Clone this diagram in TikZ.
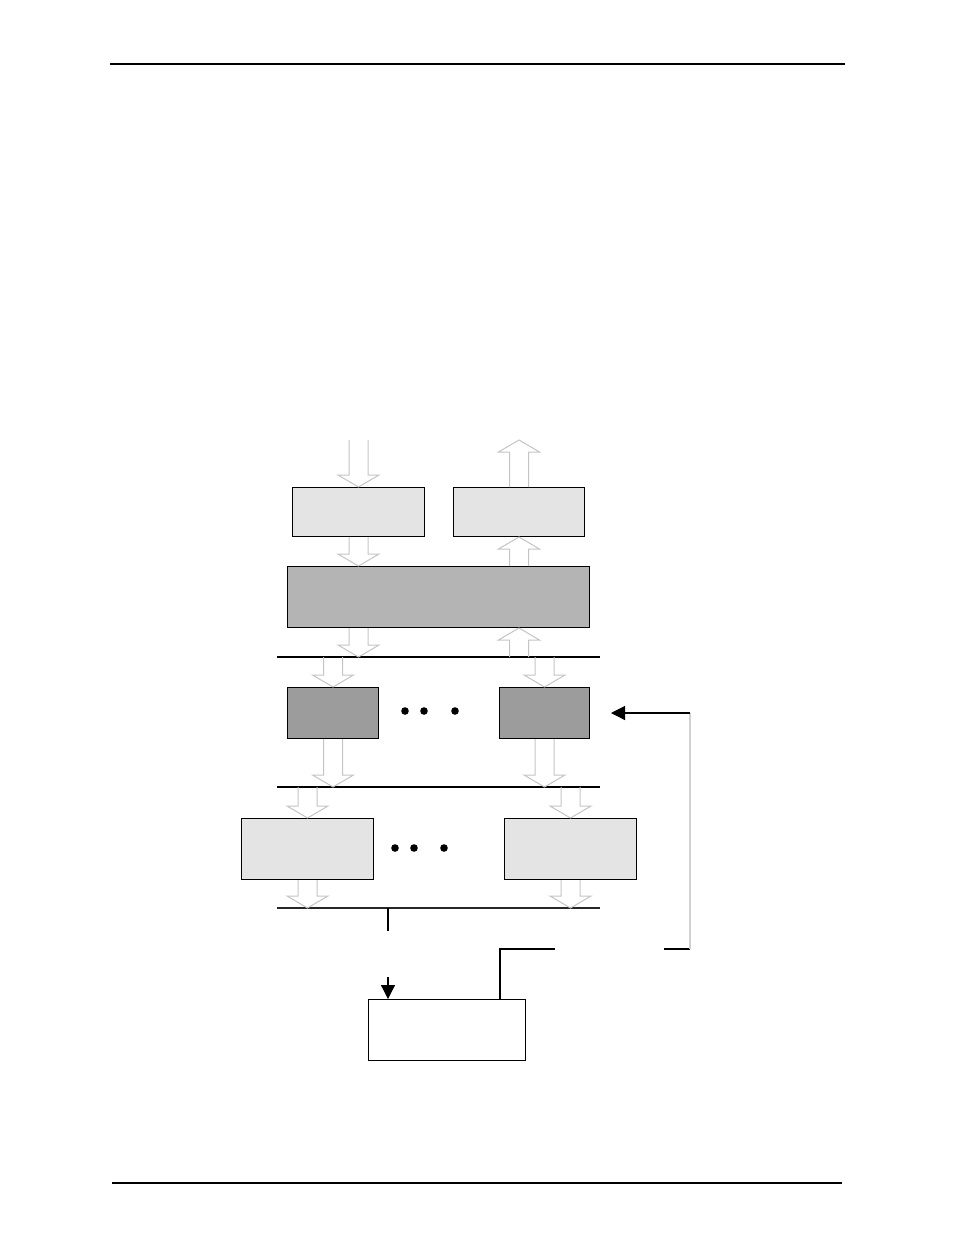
\documentclass[tikz,border=0pt]{standalone}
\usepackage{tikz}
\usepackage{xcolor}
\usetikzlibrary{arrows.meta,calc}
\definecolor{paleboxgray}{RGB}{228, 228, 228}
\definecolor{coregray}{RGB}{180, 180, 180}
\definecolor{unitgray}{RGB}{156, 156, 156}
\definecolor{fatgray}{RGB}{196, 196, 196}
\definecolor{loopgray}{RGB}{208, 208, 208}

\tikzset{
  block/.style={draw=black, line width=1pt, inner sep=0pt, anchor=north west},
  busline/.style={line width=2.5pt},
  wire/.style={line width=1.2pt},
  fatline/.style={draw=fatgray, line width=1pt, line join=miter},
  tipped/.style={-{Triangle[length=14pt,width=14pt]}}
}
\newcommand{\fatarrow}[2]{%
  \draw[fatline] let \p1=(#1), \p2=(#2), \n1={sign(\y2-\y1)} in
    (\x1-9.5pt,\y1) -- (\x1-9.5pt,\y2-\n1*12pt) -- (\x1-20.5pt,\y2-\n1*12pt) -- (\x1,\y2)
    -- (\x1+20.5pt,\y2-\n1*12pt) -- (\x1+9.5pt,\y2-\n1*12pt) -- (\x1+9.5pt,\y1);%
}

\begin{document}
\begin{tikzpicture}[x=1pt, y=-1pt]
\useasboundingbox (0,0) rectangle (954,1235);

\draw[busline] (110,64) -- (845,64);
\draw[busline] (112,1183) -- (842,1183);

\node[block, fill=paleboxgray, minimum width=132pt, minimum height=49pt] (inA) at (292,487) {};
\node[block, fill=paleboxgray, minimum width=131pt, minimum height=49pt] (outA) at (453,487) {};
\node[block, fill=coregray, minimum width=302pt, minimum height=61pt] (core) at (287,566) {};
\node[block, fill=unitgray, minimum width=91pt, minimum height=51pt] (mid1) at (287,687) {};
\node[block, fill=unitgray, minimum width=90pt, minimum height=51pt] (midN) at (499,687) {};
\node[block, fill=paleboxgray, minimum width=132pt, minimum height=61pt] (low1) at (241,818) {};
\node[block, fill=paleboxgray, minimum width=132pt, minimum height=61pt] (lowN) at (504,818) {};
\node[block, fill=white, minimum width=157pt, minimum height=61pt] (ctrl) at (368,999) {};

\coordinate (bus1w) at (277,657);
\coordinate (bus1e) at (600,657);
\coordinate (bus2w) at (277,787);
\coordinate (bus2e) at (600,787);
\coordinate (bus3w) at (277,908);
\coordinate (bus3e) at (600,908);
\draw[busline] (bus1w) -- (bus1e);
\draw[busline] (bus2w) -- (bus2e);
\draw[busline, black!85] (bus3w) -- (bus3e);

\coordinate (srcIn) at ([yshift=47pt]inA.north);
\coordinate (sinkOut) at ([yshift=47pt]outA.north);
\fatarrow{srcIn}{inA.north}
\fatarrow{outA.north}{sinkOut}
\fatarrow{inA.south}{inA.south |- core.north}
\fatarrow{outA.south |- core.north}{outA.south}
\fatarrow{inA.south |- core.south}{inA.south |- bus1w}
\fatarrow{outA.south |- bus1w}{outA.south |- core.south}
\fatarrow{mid1.north |- bus1w}{mid1.north}
\fatarrow{midN.north |- bus1w}{midN.north}
\fatarrow{mid1.south}{mid1.south |- bus2w}
\fatarrow{midN.south}{midN.south |- bus2w}
\fatarrow{low1.north |- bus2w}{low1.north}
\fatarrow{lowN.north |- bus2w}{lowN.north}
\fatarrow{low1.south}{low1.south |- bus3w}
\fatarrow{lowN.south}{lowN.south |- bus3w}

\foreach \dx in {405,424,455} \fill (\dx,711) circle (3.8pt);
\foreach \dx in {395,414,444} \fill (\dx,848) circle (3.8pt);

\coordinate (ctrlIn) at ([xshift=20pt]ctrl.north west);
\draw[wire] (ctrlIn |- bus3w) -- ++(0,23);
\draw[wire, tipped] ([yshift=22pt]ctrlIn) -- (ctrlIn);

\coordinate (fbA) at (555,949);
\coordinate (fbB) at (664,949);
\coordinate (fbC) at (690,949);
\draw[wire] ([xshift=-26pt]ctrl.north east) |- (fbA);
\draw[wire] (fbB) -- (fbC);
\draw[wire, loopgray] (fbC) -- (fbC |- midN.east);
\draw[wire, tipped] (fbC |- midN.east) -- ([xshift=21pt]midN.east);
\end{tikzpicture}
\end{document}
